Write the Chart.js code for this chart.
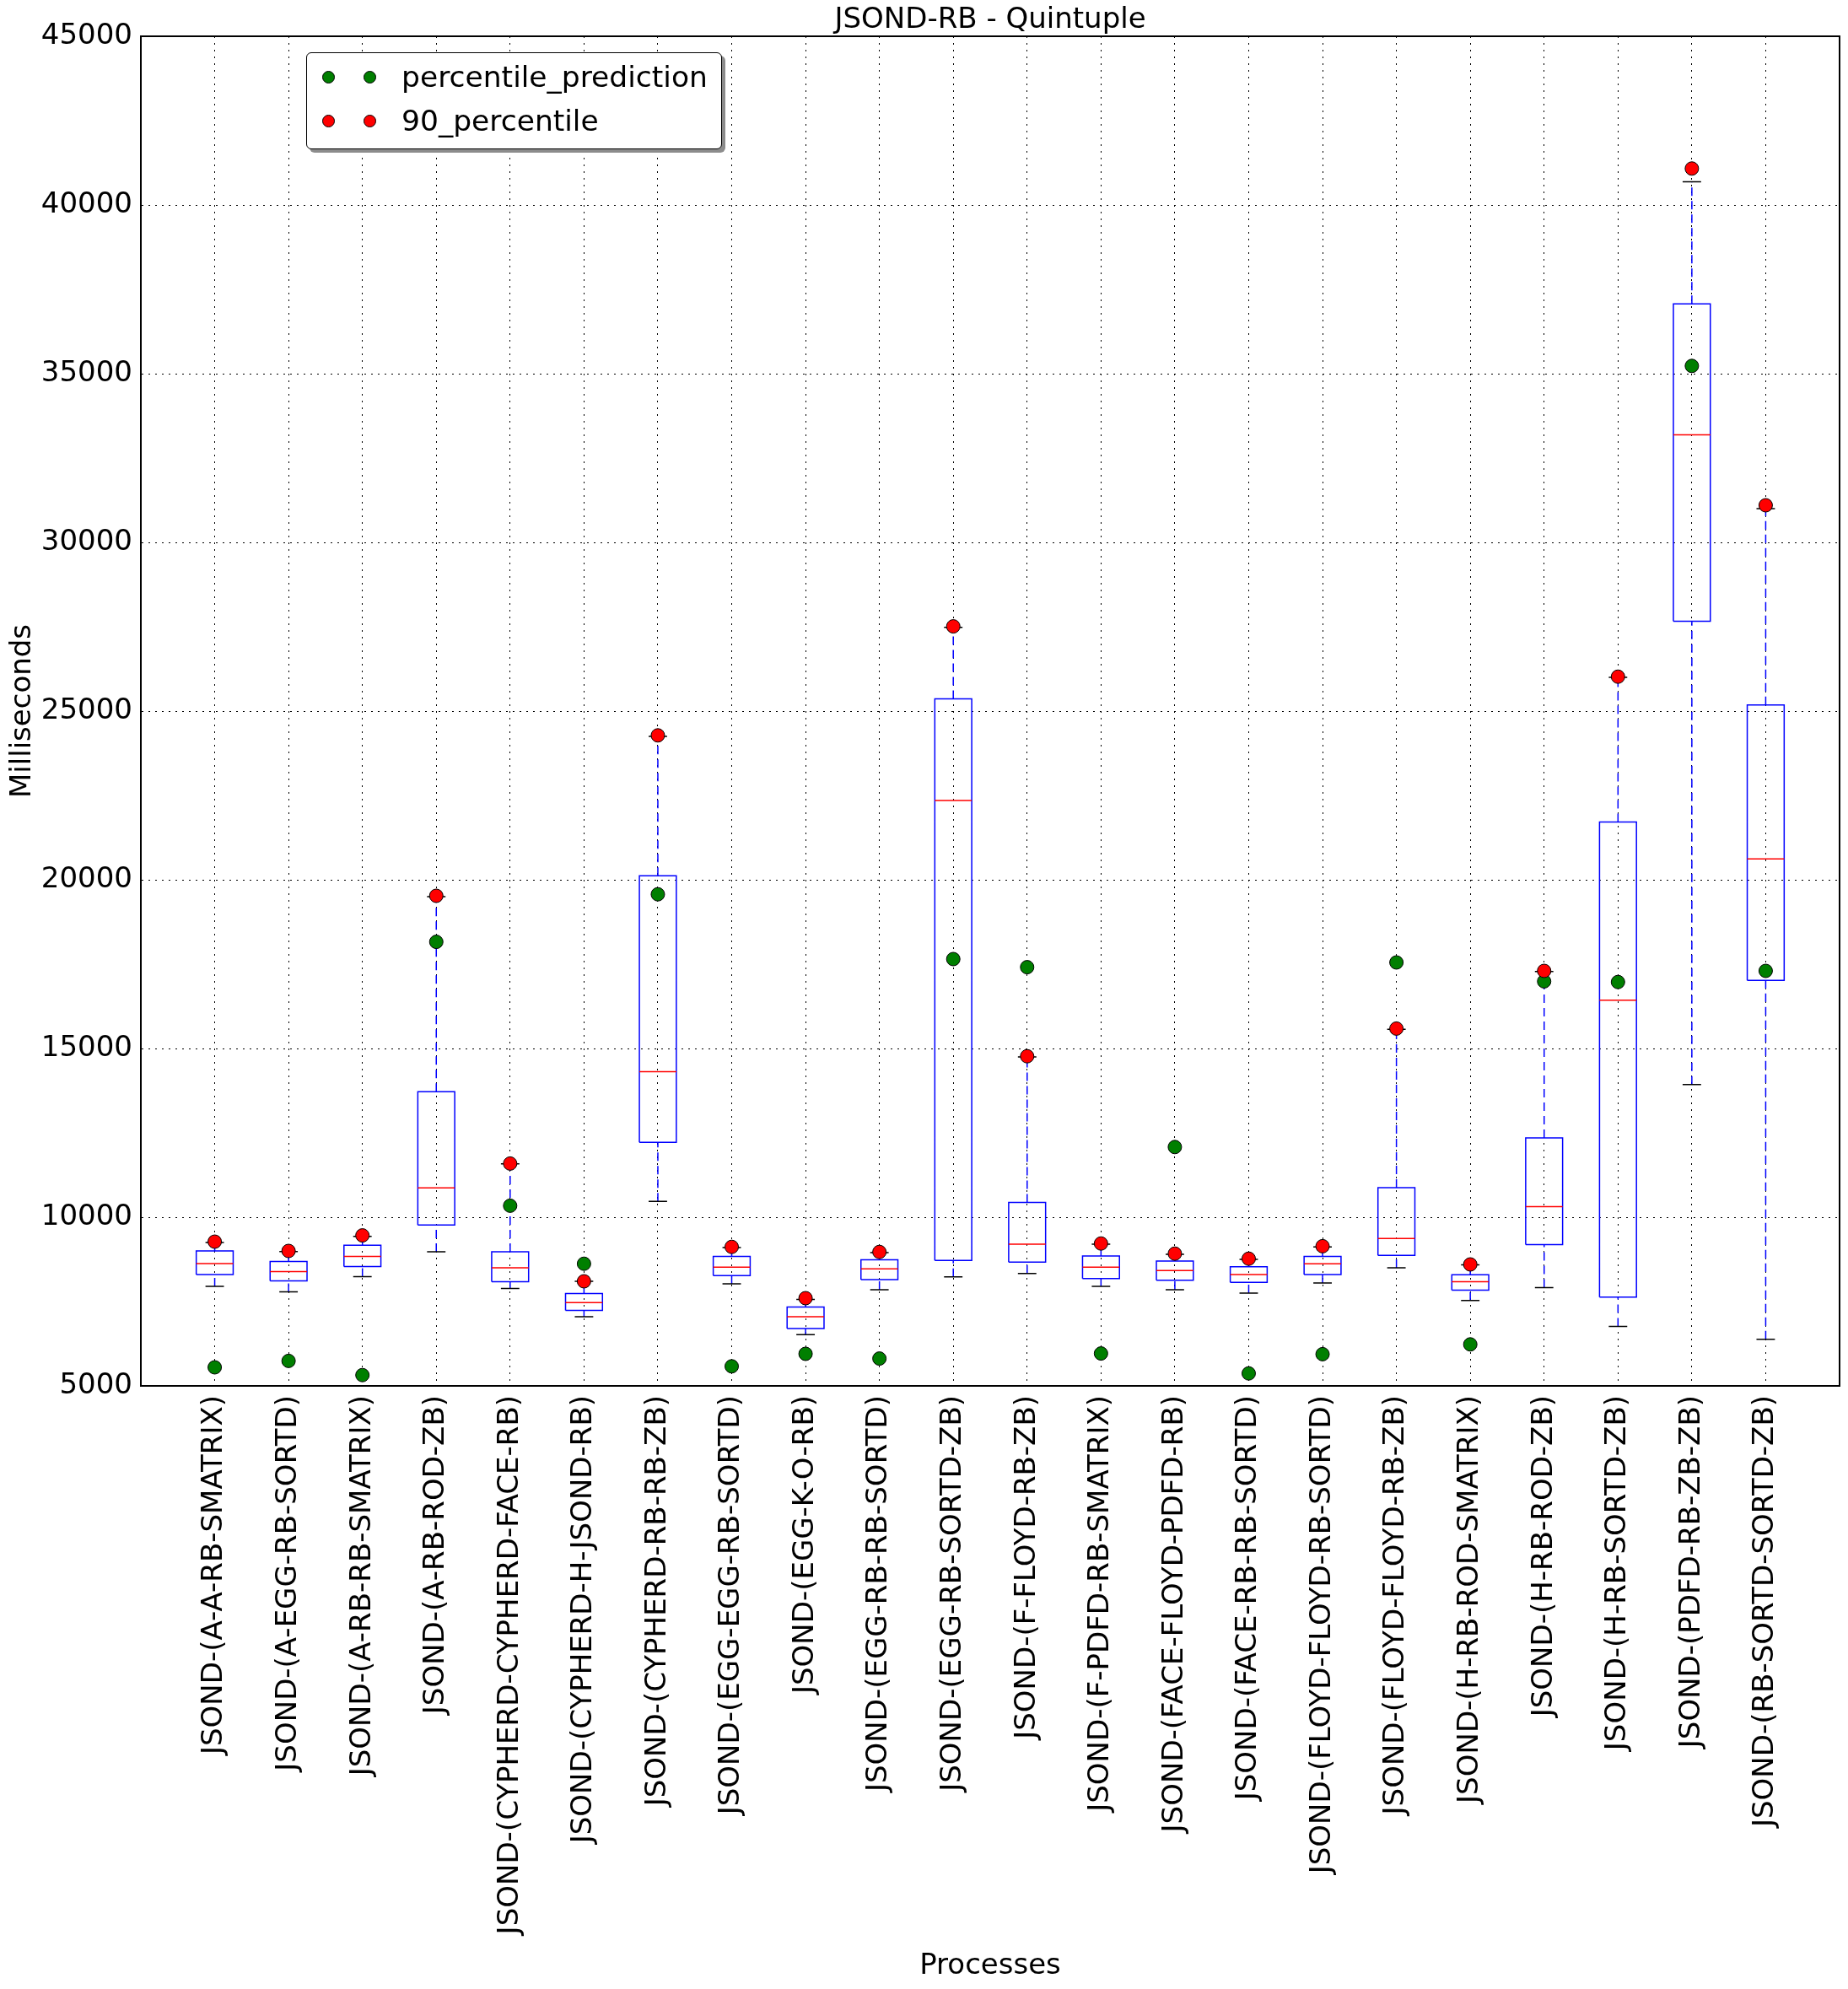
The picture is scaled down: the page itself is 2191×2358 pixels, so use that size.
<!DOCTYPE html>
<html>
<head>
<meta charset="utf-8">
<title>JSOND-RB - Quintuple</title>
<script src="https://cdn.jsdelivr.net/npm/chart.js@4.4.1/dist/chart.umd.min.js"></script>
<style>
    body { margin: 0; background: #fff; }
    #wrap { position: relative; width: 2191px; height: 2358px; }
    #legend {
        position: absolute; left: 363px; top: 62px; width: 491px; height: 113px;
        border: 1.5px solid #000; border-radius: 6px; background: #fff;
        box-shadow: 4px 4px 0 #8c8c8c;
        font-family: 'DejaVu Sans', sans-serif; font-size: 34.5px; color: #000;
    }
    .legend-dot {
        position: absolute; width: 15px; height: 15px; border-radius: 50%;
        border: 1px solid #000; box-sizing: border-box;
    }
    .legend-label { position: absolute; left: 112px; line-height: 40px; white-space: nowrap; }
</style>
</head>
<body>
<div id="wrap">
    <canvas id="myChart" width="2191" height="2358"></canvas>
    <div id="legend"></div>
</div>
<script>
const categories = [
    'JSOND-(A-A-RB-SMATRIX)',
    'JSOND-(A-EGG-RB-SORTD)',
    'JSOND-(A-RB-RB-SMATRIX)',
    'JSOND-(A-RB-ROD-ZB)',
    'JSOND-(CYPHERD-CYPHERD-FACE-RB)',
    'JSOND-(CYPHERD-H-JSOND-RB)',
    'JSOND-(CYPHERD-RB-RB-ZB)',
    'JSOND-(EGG-EGG-RB-SORTD)',
    'JSOND-(EGG-K-O-RB)',
    'JSOND-(EGG-RB-RB-SORTD)',
    'JSOND-(EGG-RB-SORTD-ZB)',
    'JSOND-(F-FLOYD-RB-ZB)',
    'JSOND-(F-PDFD-RB-SMATRIX)',
    'JSOND-(FACE-FLOYD-PDFD-RB)',
    'JSOND-(FACE-RB-RB-SORTD)',
    'JSOND-(FLOYD-FLOYD-RB-SORTD)',
    'JSOND-(FLOYD-FLOYD-RB-ZB)',
    'JSOND-(H-RB-ROD-SMATRIX)',
    'JSOND-(H-RB-ROD-ZB)',
    'JSOND-(H-RB-SORTD-ZB)',
    'JSOND-(PDFD-RB-ZB-ZB)',
    'JSOND-(RB-SORTD-SORTD-ZB)',
];

const whiskerLow = [7950, 7790, 8240, 8975, 7890, 7050, 10470, 8025, 6520, 7850, 8230, 8330, 7950, 7850, 7750, 8050, 8500, 7530, 7910, 6760, 13930, 6380];
const q1 = [8300, 8110, 8540, 9770, 8090, 7240, 12220, 8270, 6700, 8150, 8720, 8670, 8180, 8130, 8070, 8300, 8870, 7840, 9190, 7630, 27660, 17020];
const median = [8625, 8390, 8840, 10870, 8500, 7470, 14310, 8520, 7050, 8470, 22350, 9200, 8520, 8420, 8300, 8620, 9370, 8090, 10310, 16430, 33190, 20620];
const q3 = [9000, 8690, 9170, 13720, 8975, 7740, 20120, 8840, 7340, 8735, 25360, 10440, 8850, 8700, 8530, 8835, 10875, 8295, 12350, 21710, 37070, 25180];
const whiskerHigh = [9250, 8980, 9430, 19500, 11580, 8100, 24250, 9100, 7560, 8950, 27480, 14750, 9200, 8900, 8750, 9120, 15570, 8590, 17280, 26000, 40690, 31000];

const percentilePrediction = [5550, 5740, 5320, 18160, 10340, 8620, 19570, 5580, 5950, 5810, 17650, 17410, 5960, 12080, 5370, 5940, 17550, 6230, 16990, 16970, 35230, 17300];
const percentile90 = [9275, 9000, 9460, 19525, 11590, 8100, 24280, 9120, 7600, 8970, 27510, 14770, 9220, 8920, 8770, 9140, 15590, 8600, 17300, 26020, 41080, 31100];

const yTicks = [5000, 10000, 15000, 20000, 25000, 30000, 35000, 40000, 45000];

const seriesNames = ['percentile_prediction', '90_percentile'];
const seriesColors = ['#007f00', '#ff0000'];

const FONT = "'DejaVu Sans', sans-serif";
const BOX_HALF = 0.25;
const CAP_HALF = 0.125;

const main = () => {
    createChart();
    createLegend();
};

/**
 * 線分のリストを、途中に null を挟んだ1本のデータ列にします。
 * @param {Array<Array<{x:number,y:number}>>} list
 */
const joinSegments = (list) => {
    const ret = [];

    list.forEach((seg) => {
        seg.forEach((p) => ret.push(p));
        ret.push({ x: seg[0].x, y: null });
    });

    return ret;
};

const boxData = () => joinSegments(categories.map((c, i) => {
    const x = i + 1;
    return [
        { x: x - BOX_HALF, y: q1[i] },
        { x: x + BOX_HALF, y: q1[i] },
        { x: x + BOX_HALF, y: q3[i] },
        { x: x - BOX_HALF, y: q3[i] },
        { x: x - BOX_HALF, y: q1[i] },
    ];
}));

const medianData = () => joinSegments(categories.map((c, i) => [
    { x: i + 1 - BOX_HALF, y: median[i] },
    { x: i + 1 + BOX_HALF, y: median[i] },
]));

const whiskerData = () => {
    const segs = [];
    categories.forEach((c, i) => {
        segs.push([{ x: i + 1, y: q3[i] }, { x: i + 1, y: whiskerHigh[i] }]);
        segs.push([{ x: i + 1, y: whiskerLow[i] }, { x: i + 1, y: q1[i] }]);
    });
    return joinSegments(segs);
};

const capData = () => {
    const segs = [];
    categories.forEach((c, i) => {
        segs.push([{ x: i + 1 - CAP_HALF, y: whiskerHigh[i] }, { x: i + 1 + CAP_HALF, y: whiskerHigh[i] }]);
        segs.push([{ x: i + 1 - CAP_HALF, y: whiskerLow[i] }, { x: i + 1 + CAP_HALF, y: whiskerLow[i] }]);
    });
    return joinSegments(segs);
};

const lineSet = (data, color, dash) => ({
    data: data,
    showLine: true,
    spanGaps: false,
    pointRadius: 0,
    pointHoverRadius: 0,
    borderColor: color,
    borderWidth: 1.5,
    borderDash: dash || [],
    fill: false,
});

const pointSet = (values, color) => ({
    data: values.map((v, i) => ({ x: i + 1, y: v })),
    showLine: false,
    pointRadius: 8,
    pointBackgroundColor: color,
    pointBorderColor: '#000',
    pointBorderWidth: 1,
});

// 軸の枠線（上・右も含む）
const framePlugin = {
    id: 'frame',
    afterDraw: (chart) => {
        const { ctx, chartArea } = chart;
        ctx.save();
        ctx.strokeStyle = '#000';
        ctx.lineWidth = 2;
        ctx.strokeRect(chartArea.left, chartArea.top, chartArea.right - chartArea.left, chartArea.bottom - chartArea.top);
        ctx.restore();
    },
};

/**
 * グラフの生成を行います。
 */
const createChart = () => {
    const config = {
        type: 'scatter',
        data: {
            datasets: [
                pointSet(percentile90, seriesColors[1]),
                pointSet(percentilePrediction, seriesColors[0]),
                lineSet(capData(), '#000'),
                lineSet(medianData(), '#ff0000'),
                lineSet(boxData(), '#0000ff'),
                lineSet(whiskerData(), '#0000ff', [10, 6]),
            ],
        },
        options: {
            responsive: false,
            animation: false,
            devicePixelRatio: 1,
            layout: { padding: { left: 0, right: 10, top: 0, bottom: 0 } },
            plugins: {
                legend: { display: false },
                tooltip: { enabled: false },
                title: {
                    display: true,
                    text: 'JSOND-RB - Quintuple',
                    fullSize: false,
                    color: '#000',
                    font: { family: FONT, size: 34, weight: 'normal', lineHeight: 1.1 },
                    padding: { top: 5.6, bottom: 0 },
                },
            },
            scales: {
                x: {
                    type: 'linear',
                    min: 0,
                    max: 23,
                    afterBuildTicks: (scale) => {
                        scale.ticks = categories.map((c, i) => ({ value: i + 1 }));
                    },
                    afterFit: (scale) => {
                        scale.height = 715;
                    },
                    ticks: {
                        autoSkip: false,
                        minRotation: 90,
                        maxRotation: 90,
                        padding: 11,
                        color: '#000',
                        font: { family: FONT, size: 34 },
                        callback: (value, index) => categories[index],
                    },
                    grid: { color: '#000', lineWidth: 1, drawTicks: false },
                    border: { display: true, color: '#000', width: 2, dash: [2, 6] },
                    title: {
                        display: true,
                        text: 'Processes',
                        color: '#000',
                        font: { family: FONT, size: 34 },
                        padding: { top: 0, bottom: 6 },
                    },
                },
                y: {
                    type: 'linear',
                    min: 5000,
                    max: 45000,
                    afterBuildTicks: (scale) => {
                        scale.ticks = yTicks.map((v) => ({ value: v }));
                    },
                    afterFit: (scale) => {
                        scale.width = 167;
                    },
                    ticks: {
                        padding: 10,
                        color: '#000',
                        font: { family: FONT, size: 34 },
                        callback: (value) => String(value),
                    },
                    grid: { color: '#000', lineWidth: 1, drawTicks: false },
                    border: { display: true, color: '#000', width: 2, dash: [2, 6] },
                    title: {
                        display: true,
                        text: 'Milliseconds',
                        color: '#000',
                        font: { family: FONT, size: 34 },
                        padding: { top: 7, bottom: 0 },
                    },
                },
            },
        },
        plugins: [framePlugin],
    };

    const chart = new Chart(document.getElementById('myChart'), config);

    return chart;
};

/**
 * 凡例を表示します。
 */
const createLegend = () => {
    const legend = document.getElementById('legend');
    const fragment = new DocumentFragment();

    seriesNames.forEach((name, i) => {
        const centerY = 28 + i * 52;

        [25, 74].forEach((cx) => {
            const dot = document.createElement('div');
            dot.className = 'legend-dot';
            dot.style.left = (cx - 7.5) + 'px';
            dot.style.top = (centerY - 7.5) + 'px';
            dot.style.background = seriesColors[i];
            fragment.appendChild(dot);
        });

        const label = document.createElement('div');
        label.className = 'legend-label';
        label.style.top = (centerY - 20) + 'px';
        label.innerText = name;
        fragment.appendChild(label);
    });

    legend.appendChild(fragment);
};

main();
</script>
</body>
</html>
